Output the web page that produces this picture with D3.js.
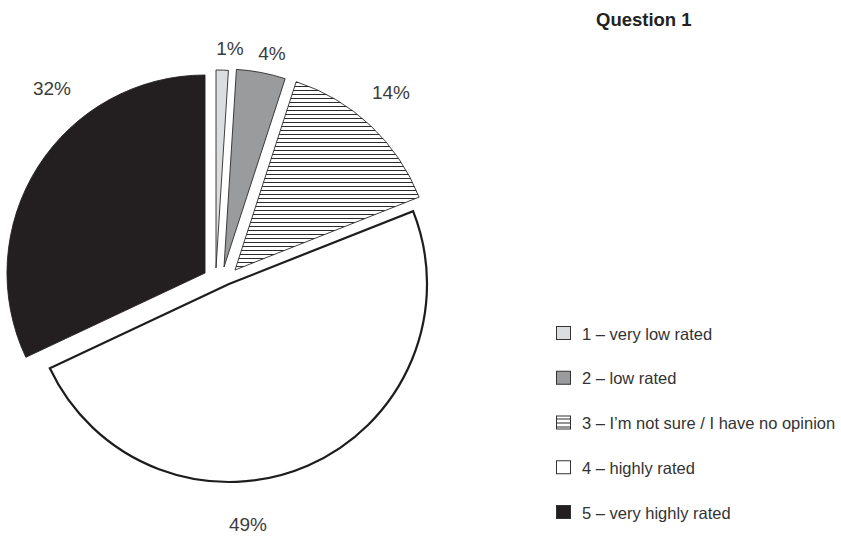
<!DOCTYPE html>
<html>
<head>
<meta charset="utf-8">
<script src="https://cdn.jsdelivr.net/npm/d3@7"></script>
<style>
  html, body { margin: 0; padding: 0; background: #fff; }
  svg { display: block; }
</style>
</head>
<body>
<svg id="chart" width="841" height="536"></svg>
<script>
// Question 1 — answer shares (percent), rating scale 1..5
const categories = [
  "1 – very low rated",
  "2 – low rated",
  "3 – I’m not sure / I have no opinion",
  "4 – highly rated",
  "5 – very highly rated"
];
const shares = [1, 4, 14, 49, 32];
const pctLabels = ["1%", "4%", "14%", "49%", "32%"];
const title = "Question 1";

// styling per category
const fills = ["#dcdddf", "#9a9b9d", "url(#hatch)", "#ffffff", "#231f20"];
const strokes = ["#2a2a2a", "#2a2a2a", "#2a2a2a", "#1d1d1d", "#231f20"];
const strokeWidths = [0.9, 0.9, 0.9, 2.2, 0.9];

// layout
const center = [218, 278];
const radius = 198;
// pull-out of each slice from the pie centre (px)
const pullOut = [[-2, -10], [6, -11], [17, -8], [11, 6], [-13, -5]];
// percentage label anchors (text centre x, baseline y)
const labelPos = [[230, 55], [272, 60], [391, 99], [248, 531], [52, 95]];

const svg = d3.select("#chart");

// horizontal line hatch for category 3
const defs = svg.append("defs");
const pat = defs.append("pattern")
  .attr("id", "hatch")
  .attr("patternUnits", "userSpaceOnUse")
  .attr("width", 8).attr("height", 4);
pat.append("rect").attr("width", 8).attr("height", 4).attr("fill", "#fff");
pat.append("line")
  .attr("x1", 0).attr("x2", 8).attr("y1", 0.5).attr("y2", 0.5)
  .attr("stroke", "#2b2b2b").attr("stroke-width", 1);

const pie = d3.pie().sort(null).value(d => d).startAngle(0).endAngle(2 * Math.PI);
const arcs = pie(shares);
const arc = d3.arc().innerRadius(0).outerRadius(radius);

const g = svg.append("g").attr("transform", `translate(${center[0]},${center[1]})`);

g.selectAll("path.slice")
  .data(arcs)
  .join("path")
  .attr("class", "slice")
  .attr("transform", (d, i) => `translate(${pullOut[i][0]},${pullOut[i][1]})`)
  .attr("d", arc)
  .attr("fill", (d, i) => fills[i])
  .attr("stroke", (d, i) => strokes[i])
  .attr("stroke-width", (d, i) => strokeWidths[i])
  .attr("stroke-linejoin", "miter");

// percentage labels
svg.selectAll("text.pct")
  .data(pctLabels)
  .join("text")
  .attr("class", "pct")
  .attr("x", (d, i) => labelPos[i][0])
  .attr("y", (d, i) => labelPos[i][1])
  .attr("text-anchor", "middle")
  .attr("font-family", "'Liberation Sans', Arial, sans-serif")
  .attr("font-size", 19)
  .attr("fill", "#3c3c3c")
  .text(d => d);

// title
svg.append("text")
  .attr("x", 596).attr("y", 26)
  .attr("font-family", "'Liberation Sans', Arial, sans-serif")
  .attr("font-weight", "bold")
  .attr("font-size", 18.5)
  .attr("fill", "#222")
  .text(title);

// legend
const legendY = d3.scalePoint().domain(d3.range(categories.length)).range([333, 512]);
const lg = svg.append("g");
const rows = lg.selectAll("g.row")
  .data(categories)
  .join("g")
  .attr("class", "row")
  .attr("transform", (d, i) => `translate(556,${legendY(i)})`);

rows.append("rect")
  .attr("x", 0.5).attr("y", -6.5)
  .attr("width", 14).attr("height", 13)
  .attr("fill", (d, i) => fills[i])
  .attr("stroke", "#333")
  .attr("stroke-width", 1);

rows.append("text")
  .attr("x", 26).attr("y", 6.5)
  .attr("font-family", "'Liberation Sans', Arial, sans-serif")
  .attr("font-size", 16.5)
  .attr("fill", "#333")
  .text(d => d);
</script>
</body>
</html>
